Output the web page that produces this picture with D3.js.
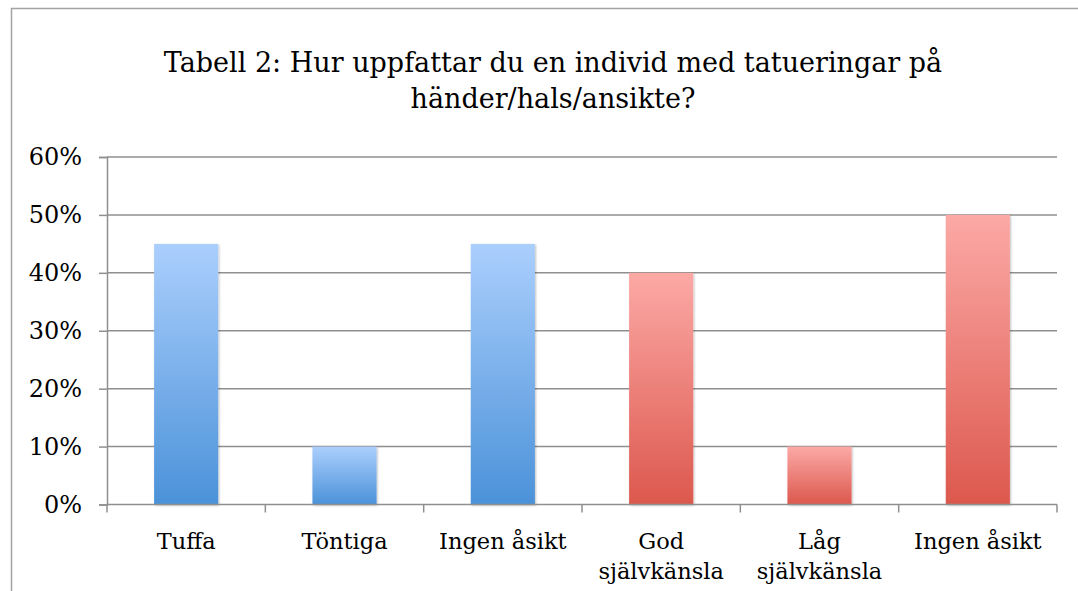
<!DOCTYPE html>
<html>
<head>
<meta charset="utf-8">
<script src="https://cdn.jsdelivr.net/npm/d3@7"></script>
<style>
  html, body { margin: 0; padding: 0; background: #fff; }
  svg { display: block; }
  text { font-family: "DejaVu Serif", "Liberation Serif", serif; fill: #000; }
</style>
</head>
<body>
<svg id="chart" width="1078" height="591"></svg>
<script>
// ---- data ----
const titleLines = ["Tabell 2: Hur uppfattar du en individ med tatueringar på", "händer/hals/ansikte?"];
const categories = ["Tuffa", "Töntiga", "Ingen åsikt", "God självkänsla", "Låg självkänsla", "Ingen åsikt"];
const categoryLines = [["Tuffa"], ["Töntiga"], ["Ingen åsikt"], ["God", "självkänsla"], ["Låg", "självkänsla"], ["Ingen åsikt"]];
const values = [0.45, 0.10, 0.45, 0.40, 0.10, 0.50];
const groups = ["tatuering", "tatuering", "tatuering", "självkänsla", "självkänsla", "självkänsla"];
const yTicks = [0, 0.1, 0.2, 0.3, 0.4, 0.5, 0.6];

// ---- layout ----
const svg = d3.select("#chart");
const W = 1078, H = 591;
const plot = { left: 107, right: 1057, top: 157, bottom: 504.5 };
const gridColor = "#8f8f8f";

// frame (left and top border of chart area)
svg.append("path")
  .attr("d", `M11.5,${H} L11.5,8.5 L${W},8.5`)
  .attr("fill", "none").attr("stroke", "#a3a3a3").attr("stroke-width", 1.5);

// title
const title = svg.append("text").attr("text-anchor", "middle").attr("font-size", 27);
title.selectAll("tspan").data(titleLines).join("tspan")
  .attr("x", 553).attr("y", (d, i) => 72 + i * 36).text(d => d);

// scales
const idx = categories.map((d, i) => i);
const x = d3.scaleBand().domain(idx).range([plot.left, plot.right]).padding(0);
const y = d3.scaleLinear().domain([0, 0.6]).range([plot.bottom, plot.top]);
const barW = x.bandwidth() * 0.405;

// defs: gradients + shadow
const defs = svg.append("defs");
const grads = {
  "tatuering": ["#abcffd", "#4b92d9"],
  "självkänsla": ["#fca9a6", "#dc584d"]
};
Object.entries(grads).forEach(([k, c], i) => {
  const g = defs.append("linearGradient").attr("id", "g" + i)
    .attr("x1", 0).attr("y1", 0).attr("x2", 0).attr("y2", 1);
  g.append("stop").attr("offset", "0%").attr("stop-color", c[0]);
  g.append("stop").attr("offset", "100%").attr("stop-color", c[1]);
});
const gradId = k => "url(#g" + Object.keys(grads).indexOf(k) + ")";
const f = defs.append("filter").attr("id", "shadow")
  .attr("x", "-20%").attr("y", "-20%").attr("width", "140%").attr("height", "140%");
f.append("feDropShadow").attr("dx", 1).attr("dy", 1).attr("stdDeviation", 1.2)
  .attr("flood-color", "#000").attr("flood-opacity", 0.25);

// y axis with gridlines
const yAxis = d3.axisLeft(y).tickValues(yTicks).tickFormat(d3.format(".0%"))
  .tickSize(8).tickPadding(17);
const gy = svg.append("g").attr("transform", `translate(${plot.left},0)`).call(yAxis);
gy.select(".domain").attr("stroke", gridColor).attr("stroke-width", 1.5);
gy.selectAll(".tick line").attr("stroke", gridColor).attr("stroke-width", 1.5);
gy.selectAll(".tick text").attr("font-size", 24).attr("font-family", "DejaVu Serif").attr("fill", "#000");

svg.append("g").selectAll("line").data(yTicks.filter(d => d > 0)).join("line")
  .attr("x1", plot.left).attr("x2", plot.right)
  .attr("y1", d => y(d)).attr("y2", d => y(d))
  .attr("stroke", gridColor).attr("stroke-width", 1.5);

// bars
svg.append("g").selectAll("rect").data(values).join("rect")
  .attr("x", (d, i) => x(i) + (x.bandwidth() - barW) / 2)
  .attr("width", barW)
  .attr("y", d => y(d))
  .attr("height", d => y(0) - y(d))
  .attr("fill", (d, i) => gradId(groups[i]))
  .attr("filter", "url(#shadow)");

// x axis: baseline + ticks at category boundaries
const bounds = idx.map(i => x(i)).concat([plot.right]);
const gx = svg.append("g");
gx.append("line").attr("x1", plot.left).attr("x2", plot.right)
  .attr("y1", y(0)).attr("y2", y(0)).attr("stroke", gridColor).attr("stroke-width", 1.5);
gx.selectAll("line.tk").data(bounds).join("line").attr("class", "tk")
  .attr("x1", d => d).attr("x2", d => d)
  .attr("y1", y(0)).attr("y2", y(0) + 8)
  .attr("stroke", gridColor).attr("stroke-width", 1.5);

// category labels
const lab = svg.append("g").selectAll("text").data(categoryLines).join("text")
  .attr("text-anchor", "middle").attr("font-size", 22.5);
lab.selectAll("tspan").data((d, i) => d.map(t => ({ t, i }))).join("tspan")
  .attr("x", d => x(d.i) + x.bandwidth() / 2)
  .attr("y", (d, j) => 549 + j * 30)
  .text(d => d.t);
</script>
</body>
</html>
